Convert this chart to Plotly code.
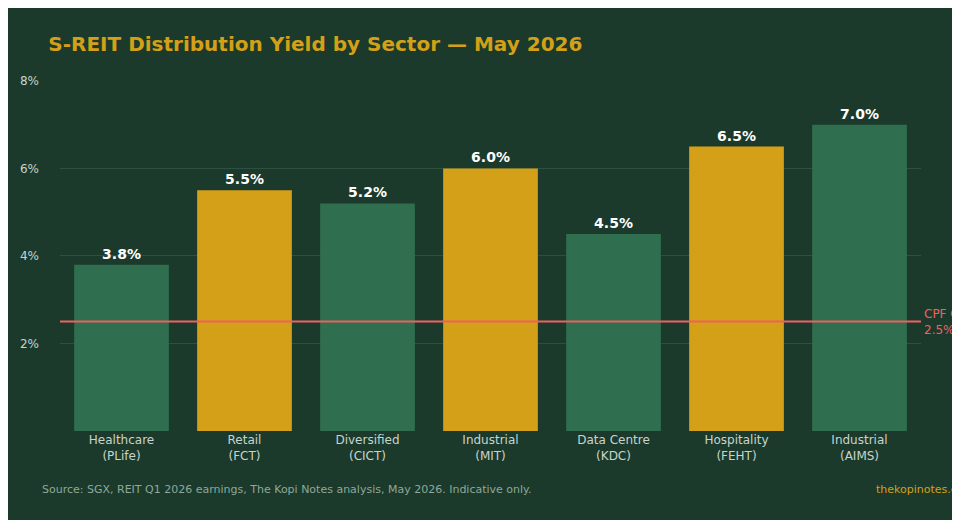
import plotly.graph_objects as go

# Data
sectors = ["Healthcare<br>(PLife)", "Retail<br>(FCT)", "Diversified<br>(CICT)", "Industrial<br>(MIT)",
           "Data Centre<br>(KDC)", "Hospitality<br>(FEHT)", "Industrial<br>(AIMS)"]
yields = [3.8, 5.5, 5.2, 6.0, 4.5, 6.5, 7.0]
highlight = [False, True, False, True, False, True, False]
cpf_rate = 2.5

colors = ["#d4a017" if h else "#2f6e4e" for h in highlight]

fig = go.Figure(go.Bar(
    x=sectors, y=yields, marker_color=colors, marker_line_width=0,
    text=[f"<b>{v:.1f}%</b>" for v in yields], textposition="outside",
    textfont=dict(family="DejaVu Sans", size=14, color="#ffffff"),
    cliponaxis=False, width=0.77,
))

fig.add_shape(type="line", xref="paper", x0=0, x1=1, yref="y", y0=cpf_rate, y1=cpf_rate,
              line=dict(color="#f06060", width=2))
fig.add_annotation(xref="paper", x=1, xanchor="left", xshift=1, yref="y", y=cpf_rate,
                   text="CPF OA<br>2.5%", showarrow=False, align="left",
                   font=dict(color="#f06060", size=12, family="DejaVu Sans"))
fig.add_annotation(xref="paper", yref="paper", x=-0.023, y=-0.19, xanchor="left", showarrow=False,
                   text="Source: SGX, REIT Q1 2026 earnings, The Kopi Notes analysis, May 2026. Indicative only.",
                   font=dict(color="#8fa898", size=11, family="DejaVu Sans"))
fig.add_annotation(xref="paper", yref="paper", x=0.945, y=-0.19, xanchor="left", showarrow=False,
                   text="thekopinotes.com", font=dict(color="#d4a017", size=11, family="DejaVu Sans"))

fig.update_layout(
    width=960, height=520,
    paper_bgcolor="#1b3a2b", plot_bgcolor="#1b3a2b",
    margin=dict(l=52, r=47, t=72, b=97),
    title=dict(text="<b>S-REIT Distribution Yield by Sector — May 2026</b>", x=0.042, y=0.945,
               xanchor="left", font=dict(color="#d4a017", size=20, family="DejaVu Sans")),
    showlegend=False,
    xaxis=dict(tickfont=dict(color="#c8d4cc", size=12, family="DejaVu Sans"), showgrid=False),
    yaxis=dict(range=[0, 8.02], tickvals=[2, 4, 6, 8], ticktext=["2%", "4%", "6%", "8%"],
               gridcolor="#2d5040", zeroline=False,
               tickfont=dict(color="#c8d4cc", size=12, family="DejaVu Sans"), ticklabelstandoff=20),
)

fig.write_html("out.html")
